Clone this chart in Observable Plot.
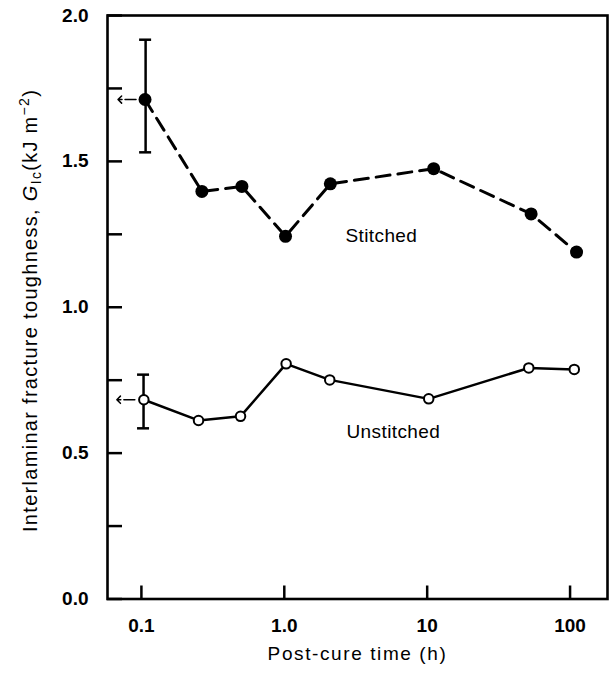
<!DOCTYPE html>
<html><head><meta charset="utf-8">
<script src="https://cdn.jsdelivr.net/npm/d3@7"></script>
<script src="https://cdn.jsdelivr.net/npm/@observablehq/plot@0.6"></script>
<style>
html,body{margin:0;padding:0;background:#fff;}
</style>
</head><body>
<div id="chart"></div>
<script>
// ---- data ----
const stitchedTime = [0.106, 0.265, 0.505, 1.02, 2.1, 11.1, 53.4, 111];
const stitchedValue = [1.712, 1.397, 1.414, 1.243, 1.423, 1.475, 1.320, 1.189];
const unstitchedTime = [0.104, 0.251, 0.494, 1.03, 2.08, 10.25, 51.4, 107];
const unstitchedValue = [0.683, 0.612, 0.626, 0.806, 0.751, 0.686, 0.792, 0.787];

const errorTime = [0.107, 0.1035];
const errorLow = [1.531, 0.585];
const errorHigh = [1.917, 0.769];

const arrowTime = [stitchedTime[0], unstitchedTime[0]];
const arrowValue = [stitchedValue[0], unstitchedValue[0]];

const seriesLabels = ["Stitched", "Unstitched"];
const labelTime = [4.78, 5.8];
const labelValue = [1.246, 0.574];

const xTicks = [0.1, 1, 10, 100];
const xTickLabels = ["0.1", "1.0", "10", "100"];
const yMinorTicks = [0, 0.25, 0.5, 0.75, 1, 1.25, 1.5, 1.75, 2];
const yTicks = [0, 0.5, 1, 1.5, 2];
const yTickLabels = ["0.0", "0.5", "1.0", "1.5", "2.0"];
const xDomain = [0.0579, 182.8];
const yDomain = [0, 2];
const xLabel = "Post-cure time (h)";

// ---- layout ----
const W = 609, H = 674, mL = 107, mR = 2, mT = 15, mB = 75.5;
const plotW = W - mL - mR, plotH = H - mT - mB;
const font = "'Liberation Sans', Arial, Helvetica, sans-serif";

const sIdx = d3.range(stitchedTime.length);
const uIdx = d3.range(unstitchedTime.length);
const eIdx = d3.range(errorTime.length);
const capIdx = d3.range(errorTime.length * 2);

const chart = Plot.plot({
  width: W, height: H,
  marginLeft: mL, marginRight: mR, marginTop: mT, marginBottom: mB,
  style: {fontFamily: font, fontSize: "19px", color: "#000", background: "#fff"},
  x: {type: "log", domain: xDomain},
  y: {domain: yDomain},
  marks: [
    // inward ticks
    Plot.ruleX(xTicks, {x: d => d, insetTop: plotH - 13, strokeWidth: 2.5, stroke: "#000"}),
    Plot.ruleY(yMinorTicks, {y: d => d, insetRight: plotW - 15, strokeWidth: 2.5, stroke: "#000"}),
    Plot.axisX(xTicks, {tickSize: 0, tickPadding: 19, label: null, fontWeight: "bold",
      tickFormat: d => xTickLabels[xTicks.indexOf(d)]}),
    Plot.axisY(yTicks, {tickSize: 0, tickPadding: 19, label: null, fontWeight: "bold",
      tickFormat: d => yTickLabels[yTicks.indexOf(d)]}),
    Plot.frame({strokeWidth: 2.6, stroke: "#000"}),
    // error bars
    Plot.ruleX(eIdx, {x: i => errorTime[i], y1: i => errorLow[i], y2: i => errorHigh[i], strokeWidth: 2.5, stroke: "#000"}),
    Plot.ruleY(capIdx, {
      y: i => (i % 2 ? errorHigh : errorLow)[i >> 1],
      x1: i => errorTime[i >> 1], x2: i => errorTime[i >> 1],
      insetLeft: -6, insetRight: -6, strokeWidth: 2.5, stroke: "#000"}),
    // arrows to the axis
    Plot.vector(eIdx, {x: i => arrowTime[i], y: i => arrowValue[i], length: 18, rotate: -90,
      anchor: "start", dx: -9, strokeWidth: 1.5, stroke: "#000", strokeDasharray: "11,3,3"}),
    // stitched
    Plot.line(sIdx, {x: i => stitchedTime[i], y: i => stitchedValue[i], stroke: "#000",
      strokeWidth: 3, strokeDasharray: "14,8"}),
    Plot.dot(sIdx, {x: i => stitchedTime[i], y: i => stitchedValue[i], r: 6.5, fill: "#000", stroke: "none"}),
    // unstitched
    Plot.line(uIdx, {x: i => unstitchedTime[i], y: i => unstitchedValue[i], stroke: "#000", strokeWidth: 2.5}),
    Plot.dot(uIdx, {x: i => unstitchedTime[i], y: i => unstitchedValue[i], r: 4.75, fill: "#fff",
      stroke: "#000", strokeWidth: 2}),
    // series labels
    Plot.text(seriesLabels, {x: (d, i) => labelTime[i], y: (d, i) => labelValue[i], text: d => d,
      fontSize: 19, fill: "#000"}),
    // x label
    Plot.text([xLabel], {frameAnchor: "bottom", dy: 61, text: d => d, fontSize: 19, fill: "#000"})
  ]
});

document.getElementById("chart").appendChild(chart);

const svg = d3.select(chart);
// wider tracking as in the original typesetting
svg.selectAll("text").filter(function() { return this.textContent === xLabel; })
  .style("letter-spacing", "1.6px");
svg.selectAll("text").filter(function() { return seriesLabels.includes(this.textContent); })
  .style("letter-spacing", "0.4px");

// y-axis label with italic symbol, subscript and superscript
const yl = svg.append("text")
  .attr("transform", "translate(37,532) rotate(-90)")
  .attr("font-family", font)
  .attr("font-size", 20)
  .attr("fill", "#000")
  .attr("text-anchor", "start")
  .style("letter-spacing", "1.3px");
yl.append("tspan").text("Interlaminar fracture toughness, ");
yl.append("tspan").attr("font-style", "italic").text("G");
yl.append("tspan").attr("font-size", 14).attr("dy", 4).text("Ic");
yl.append("tspan").attr("dy", -4).text("(kJ m");
yl.append("tspan").attr("font-size", 14).attr("dy", -8).text("\u22122");
yl.append("tspan").attr("dy", 8).text(")");
</script>
</body></html>
